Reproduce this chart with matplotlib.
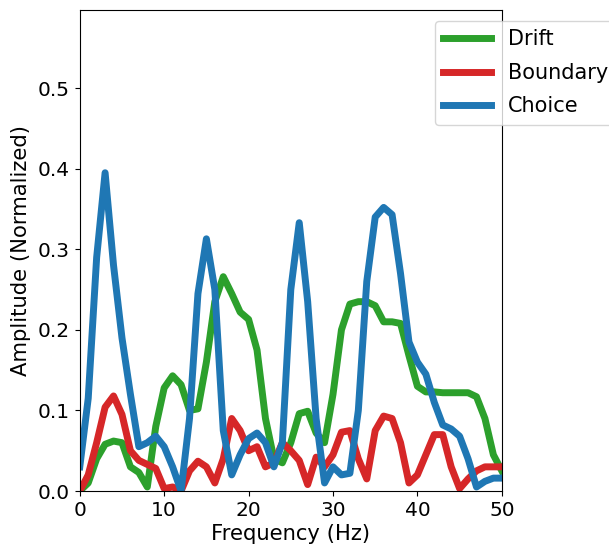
import matplotlib
matplotlib.use("Agg")
import matplotlib.pyplot as plt
import numpy as np

freqs = list(range(51))
drift = [0.0, 0.01, 0.04, 0.058, 0.062, 0.06, 0.03, 0.023, 0.005, 0.08,
         0.128, 0.143, 0.132, 0.1, 0.102, 0.16, 0.235, 0.266, 0.245, 0.222,
         0.213, 0.175, 0.09, 0.04, 0.035, 0.06, 0.096, 0.099, 0.072, 0.06,
         0.12, 0.2, 0.232, 0.235, 0.235, 0.23, 0.21, 0.21, 0.208, 0.168,
         0.13, 0.123, 0.123, 0.122, 0.122, 0.122, 0.122, 0.117, 0.09, 0.045,
         0.025]
boundary = [0.0, 0.02, 0.06, 0.104, 0.118, 0.095, 0.05, 0.038, 0.033, 0.028,
            0.003, 0.005, 0.0, 0.025, 0.037, 0.03, 0.01, 0.04, 0.09, 0.075,
            0.05, 0.055, 0.03, 0.035, 0.06, 0.05, 0.038, 0.008, 0.042, 0.03,
            0.045, 0.073, 0.075, 0.04, 0.015, 0.075, 0.093, 0.09, 0.06, 0.01,
            0.02, 0.045, 0.07, 0.07, 0.03, 0.003, 0.015, 0.025, 0.03, 0.03,
            0.03]
choice = [0.03, 0.115, 0.29, 0.395, 0.28, 0.19, 0.12, 0.055, 0.06, 0.068,
          0.055, 0.03, 0.0, 0.09, 0.245, 0.313, 0.25, 0.075, 0.02, 0.045,
          0.065, 0.072, 0.06, 0.03, 0.06, 0.25, 0.333, 0.235, 0.09, 0.01,
          0.03, 0.02, 0.022, 0.1, 0.26, 0.34, 0.352, 0.343, 0.27, 0.185,
          0.16, 0.145, 0.11, 0.082, 0.077, 0.068, 0.04, 0.005, 0.012, 0.016,
          0.016]

fig = plt.figure(figsize=(6.09, 5.46), dpi=100)
ax = fig.add_axes([0.131, 0.1007, 0.693, 0.881])
ax.plot(freqs, drift, color='#2ca02c', lw=5, label='Drift')
ax.plot(freqs, boundary, color='#d62728', lw=5, label='Boundary')
ax.plot(freqs, choice, color='#1f77b4', lw=5, label='Choice')
ax.set_xlim(0, 50)
ax.set_ylim(0, 0.597)
ax.set_xticks([0, 10, 20, 30, 40, 50])
ax.set_yticks([0.0, 0.1, 0.2, 0.3, 0.4, 0.5])
ax.tick_params(labelsize=14.5)
ax.set_xlabel('Frequency (Hz)', fontsize=15.2, labelpad=3)
ax.set_ylabel('Amplitude (Normalized)', fontsize=15.2, labelpad=5)
ax.legend(loc='upper left', bbox_to_anchor=(0.841, 0.977), borderaxespad=0,
          fontsize=15, labelspacing=0.65, handlelength=2.3)
fig.savefig('out.png', dpi=100)
